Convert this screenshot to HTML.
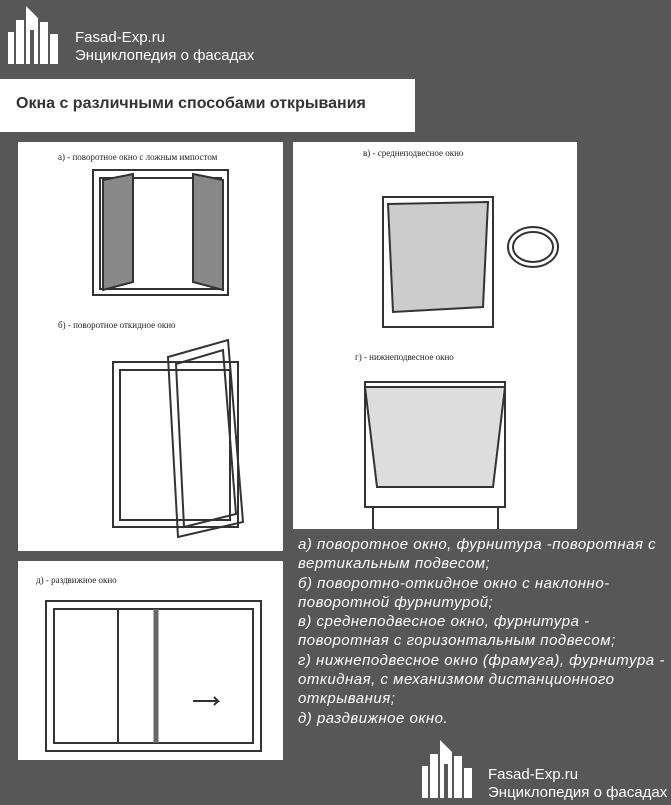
<!DOCTYPE html>
<html><head><meta charset="utf-8"><style>
body{margin:0;width:671px;height:805px;background:#575757;position:relative;overflow:hidden;font-family:"Liberation Sans",sans-serif}
.p{position:absolute;background:#fff}
.logo{position:absolute;color:#fff;font-size:15px;line-height:18px}
.cap{position:absolute;left:298px;top:535px;color:#fff;font-style:italic;font-size:15px;line-height:19.3px;letter-spacing:0.5px;white-space:nowrap}
.lbl{font-family:"Liberation Serif",serif;font-size:9px;fill:#222}
</style></head><body>
<svg style="position:absolute;left:6px;top:4px" width="56" height="62" viewBox="0 0 56 62"><g fill="#fff">
<rect x="2" y="28" width="6" height="32"/><rect x="10" y="16" width="8" height="44"/><polygon points="20,2 32,14 32,60 28,60 28,26 24,26 24,60 20,60"/><rect x="34" y="18" width="8" height="42"/><rect x="44" y="30" width="8" height="30"/></g></svg>
<div class="logo" style="left:75px;top:29px">Fasad-Exp.ru<br>Энциклопедия о фасадах</div>
<div class="p" style="left:0;top:79px;width:415px;height:53px"><div style="position:absolute;left:16px;top:16px;font-size:16px;font-weight:bold;color:#333">Окна с различными способами открывания</div></div>
<div class="p" style="left:18px;top:142px;width:265px;height:409px">
<svg width="265" height="409"><g fill="none" stroke="#333" stroke-width="2">
<text class="lbl" x="40" y="18" stroke="none">а) -   поворотное окно с ложным импостом</text>
<rect x="75" y="28" width="135" height="125"/><rect x="82" y="36" width="121" height="111"/>
<polygon points="85,38 115,32 115,140 85,148" fill="#888"/><polygon points="175,32 205,38 205,148 175,140" fill="#888"/>
<text class="lbl" x="40" y="186" stroke="none">б) -   поворотное откидное окно</text>
<rect x="95" y="220" width="125" height="165"/><rect x="102" y="228" width="110" height="150"/>
<polygon points="150,215 210,198 225,380 160,395"/><polygon points="158,222 205,208 218,372 166,385"/>
</g></svg></div>
<div class="p" style="left:293px;top:142px;width:284px;height:387px">
<svg width="284" height="387"><g fill="none" stroke="#333" stroke-width="2">
<text class="lbl" x="70" y="14" stroke="none">в) -  средне­подвесное окно</text>
<rect x="90" y="55" width="110" height="130"/><polygon points="95,62 195,60 190,165 100,170" fill="#ccc"/>
<ellipse cx="240" cy="105" rx="25" ry="20"/><ellipse cx="240" cy="105" rx="20" ry="15"/>
<text class="lbl" x="62" y="218" stroke="none">г) -  нижне­подвесное окно</text>
<rect x="72" y="240" width="140" height="125"/><polygon points="72,245 212,245 200,345 84,345" fill="#ddd"/>
<line x1="80" y1="365" x2="80" y2="387"/><line x1="205" y1="365" x2="205" y2="387"/>
</g></svg></div>
<div class="p" style="left:18px;top:561px;width:265px;height:199px">
<svg width="265" height="199"><g fill="none" stroke="#333" stroke-width="2">
<text class="lbl" x="18" y="22" stroke="none">д) -  раздвижное окно</text>
<rect x="28" y="40" width="215" height="150"/><rect x="36" y="48" width="199" height="134"/>
<line x1="100" y1="48" x2="100" y2="182"/><line x1="138" y1="48" x2="138" y2="182" stroke="#666" stroke-width="5"/>
<path d="M175 140 h25 l-4 -4 m4 4 l-4 4"/>
</g></svg></div>
<div class="cap">а) поворотное окно, фурнитура -поворотная с<br>вертикальным подвесом;<br>б) поворотно-откидное окно с наклонно-<br>поворотной фурнитурой;<br>в) среднеподвесное окно, фурнитура -<br>поворотная с горизонтальным подвесом;<br>г) нижнеподвесное окно (фрамуга), фурнитура -<br>откидная, с механизмом дистанционного<br>открывания;<br>д) раздвижное окно.</div>
<svg style="position:absolute;left:420px;top:738px" width="56" height="62" viewBox="0 0 56 62"><g fill="#fff">
<rect x="2" y="28" width="6" height="32"/><rect x="10" y="16" width="8" height="44"/><polygon points="20,2 32,14 32,60 28,60 28,26 24,26 24,60 20,60"/><rect x="34" y="18" width="8" height="42"/><rect x="44" y="30" width="8" height="30"/></g></svg>
<div class="logo" style="left:488px;top:766px">Fasad-Exp.ru<br>Энциклопедия о фасадах</div>
</body></html>
